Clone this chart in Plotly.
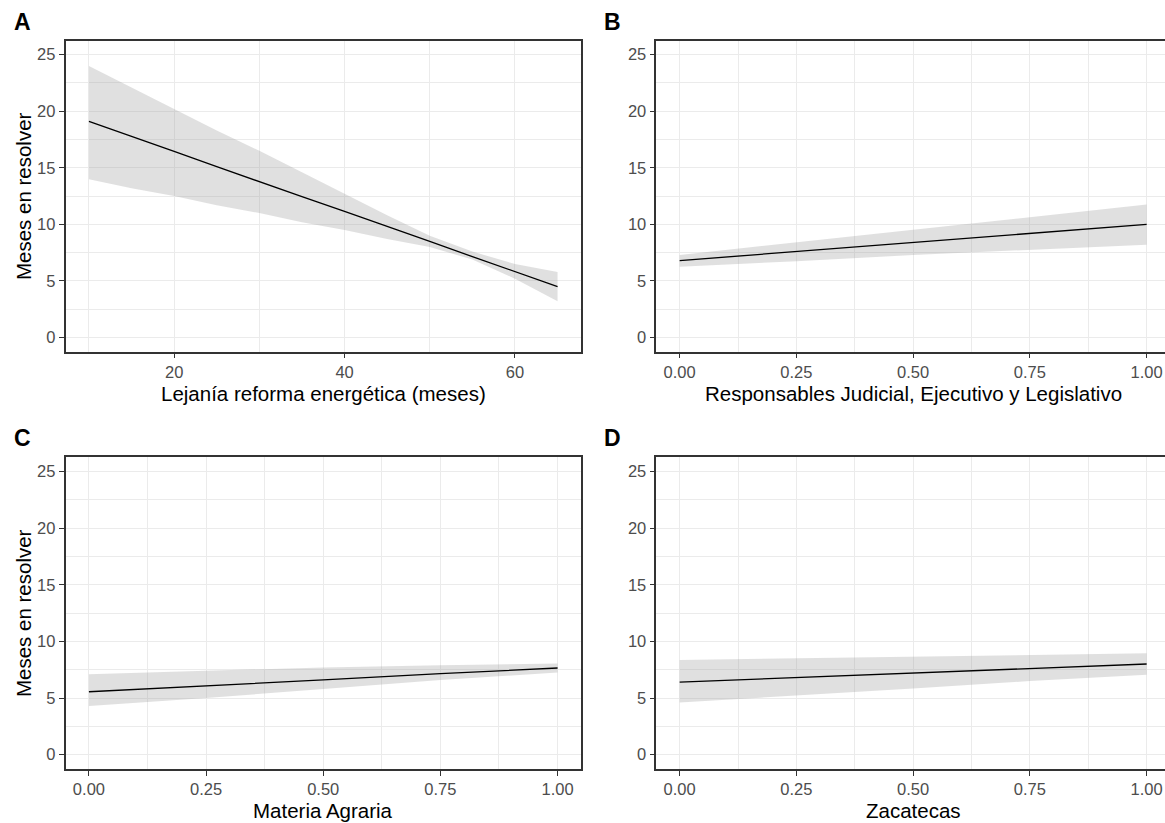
import plotly.graph_objects as go

# ---------------- data ----------------
# Panel A: Lejanía reforma energética (meses)
a_x = [10, 15, 20, 25, 30, 35, 40, 45, 50, 55, 60, 65]
a_fit = [19.1, 17.8, 16.45, 15.1, 13.75, 12.45, 11.15, 9.85, 8.5, 7.15, 5.8, 4.5]
a_upper = [24.0, 22.1, 20.2, 18.3, 16.5, 14.6, 12.7, 10.8, 9.0, 7.6, 6.5, 5.8]
a_lower = [14.0, 13.2, 12.5, 11.7, 11.0, 10.2, 9.5, 8.7, 8.0, 6.9, 5.2, 3.2]

# Panel B: Responsables Judicial, Ejecutivo y Legislativo
b_x = [0.0, 0.25, 0.5, 0.75, 1.0]
b_fit = [6.8, 7.6, 8.4, 9.2, 10.0]
b_upper = [7.3, 8.4, 9.5, 10.6, 11.75]
b_lower = [6.25, 6.75, 7.3, 7.75, 8.2]

# Panel C: Materia Agraria
c_x = [0.0, 0.25, 0.5, 0.75, 1.0]
c_fit = [5.55, 6.05, 6.6, 7.15, 7.65]
c_upper = [7.1, 7.4, 7.7, 7.9, 8.05]
c_lower = [4.3, 5.0, 5.8, 6.6, 7.25]

# Panel D: Zacatecas
d_x = [0.0, 0.25, 0.5, 0.75, 1.0]
d_fit = [6.4, 6.8, 7.2, 7.6, 8.0]
d_upper = [8.35, 8.5, 8.65, 8.8, 8.95]
d_lower = [4.6, 5.25, 5.85, 6.5, 7.05]

panel_letters = ["A", "B", "C", "D"]
x_titles = ["Lejanía reforma energética (meses)",
            "Responsables Judicial, Ejecutivo y Legislativo",
            "Materia Agraria", "Zacatecas"]
y_title = "Meses en resolver"

# ---------------- layout geometry ----------------
W, H = 1165, 823
FONT = "Liberation Sans, Arial, sans-serif"
RIBBON = "rgba(153,153,153,0.30)"
GRID = "#EBEBEB"
BORDER = "#333333"
TICKLAB = "#4D4D4D"

def px_x(p):
    return p / W

def px_y(p):
    return 1 - p / H

dom_x = [(px_x(65.5), px_x(581)), (px_x(656.3), 1.0),
         (px_x(65.5), px_x(581)), (px_x(656.3), 1.0)]
dom_y = [(px_y(351.7), px_y(40.5)), (px_y(351.7), px_y(40.5)),
         (px_y(768.8), px_y(457.3)), (px_y(768.8), px_y(457.3))]

panels = [
    (a_x, a_fit, a_upper, a_lower),
    (b_x, b_fit, b_upper, b_lower),
    (c_x, c_fit, c_upper, c_lower),
    (d_x, d_fit, d_upper, d_lower),
]

fig = go.Figure()
for i, (xs, fit, up, lo) in enumerate(panels):
    sfx = "" if i == 0 else str(i + 1)
    fig.add_trace(go.Scatter(
        x=list(xs) + list(xs)[::-1], y=list(up) + list(lo)[::-1],
        fill="toself", fillcolor=RIBBON, line=dict(width=0),
        mode="lines", hoverinfo="skip", showlegend=False,
        xaxis="x" + sfx, yaxis="y" + sfx))
    fig.add_trace(go.Scatter(
        x=xs, y=fit, mode="lines", line=dict(color="black", width=1.3),
        showlegend=False, xaxis="x" + sfx, yaxis="y" + sfx))

common_axis = dict(
    showgrid=True, gridcolor=GRID, gridwidth=1.2, zeroline=False,
    showline=True, linecolor=BORDER, linewidth=1.5,
    ticks="outside", ticklen=5, tickwidth=1.2, tickcolor=BORDER,
    tickfont=dict(family=FONT, size=16.5, color=TICKLAB),
)

layout = dict(
    width=W, height=H, margin=dict(l=0, r=0, t=0, b=0),
    paper_bgcolor="white", plot_bgcolor="white",
    font=dict(family=FONT), showlegend=False,
)

for i in range(4):
    sfx = "" if i == 0 else str(i + 1)
    if i == 0:
        xa = dict(range=[7.25, 67.75], tick0=0, dtick=20,
                  minor=dict(showgrid=True, gridcolor=GRID, gridwidth=0.8,
                             dtick=10, tick0=0, ticklen=0))
    else:
        rng = [-0.05, 1.05] if i == 2 else [-0.05, 1.0393]
        xa = dict(range=rng, tick0=0, dtick=0.25, tickformat=".2f",
                  minor=dict(showgrid=True, gridcolor=GRID, gridwidth=0.8,
                             dtick=0.125, tick0=0, ticklen=0))
    xa.update(common_axis)
    xa.update(domain=list(dom_x[i]), anchor="y" + sfx, mirror=True,
              ticklabeloverflow="allow")
    ya = dict(range=[-1.25, 26.25], tick0=0, dtick=5,
              minor=dict(showgrid=True, gridcolor=GRID, gridwidth=0.8,
                         dtick=2.5, tick0=0, ticklen=0))
    ya.update(common_axis)
    ya.update(domain=list(dom_y[i]), anchor="x" + sfx,
              mirror=(i in (0, 2)))
    layout["xaxis" + sfx] = xa
    layout["yaxis" + sfx] = ya

fig.update_layout(**layout)

# panel letters and axis titles
letter_pos = [(11.5, 21.6), (602, 21.6), (11.5, 438.4), (602, 438.4)]
for i, (lx, ly) in enumerate(letter_pos):
    fig.add_annotation(text="<b>%s</b>" % panel_letters[i], xref="paper", yref="paper",
                       x=px_x(lx), y=px_y(ly), xanchor="left", yanchor="middle",
                       showarrow=False, font=dict(family=FONT, size=23, color="black"))

xtitle_pos = [((65.5 + 581) / 2, 393), ((656.3 + 1170.2) / 2, 393),
              ((65.5 + 581) / 2, 810), ((656.3 + 1170.2) / 2, 810)]
for i, (tx, ty) in enumerate(xtitle_pos):
    fig.add_annotation(text=x_titles[i], xref="paper", yref="paper",
                       x=px_x(tx), y=px_y(ty), xanchor="center", yanchor="middle",
                       showarrow=False, font=dict(family=FONT, size=20.5, color="black"))

for cy in [(40.5 + 351.7) / 2, (457.3 + 768.8) / 2]:
    fig.add_annotation(text=y_title, xref="paper", yref="paper", textangle=-90,
                       x=px_x(23), y=px_y(cy), xanchor="center", yanchor="middle",
                       showarrow=False, font=dict(family=FONT, size=20.5, color="black"))

fig.write_html(
    "out.html",
    config={"displayModeBar": False},
    post_script="document.body.style.margin='0px';"
                "document.body.style.overflow='hidden';"
                "document.documentElement.style.overflow='hidden';",
)
